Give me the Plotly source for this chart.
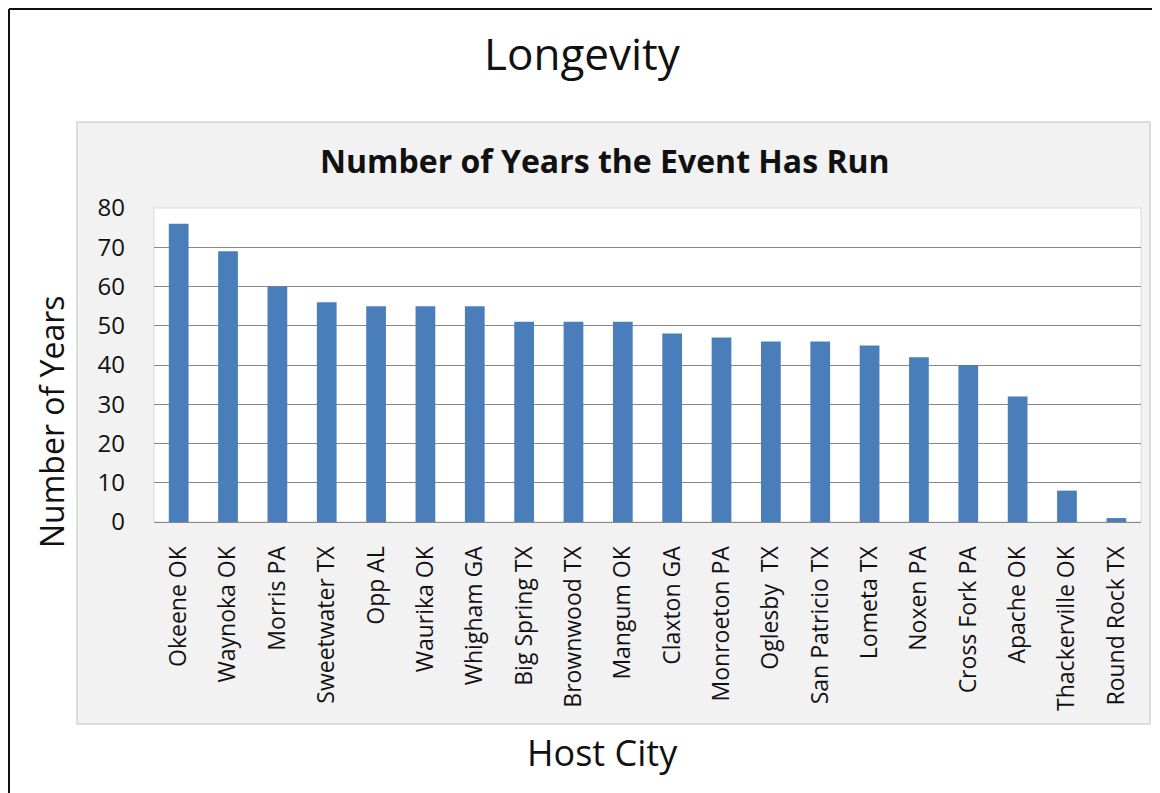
import plotly.graph_objects as go

# Data
cities = [
    "Okeene OK", "Waynoka OK", "Morris PA", "Sweetwater TX", "Opp AL",
    "Waurika OK", "Whigham GA", "Big Spring TX", "Brownwood TX", "Mangum OK",
    "Claxton GA", "Monroeton PA", "Oglesby  TX", "San Patricio TX", "Lometa TX",
    "Noxen PA", "Cross Fork PA", "Apache OK", "Thackerville OK", "Round Rock TX",
]
years = [76, 69, 60, 56, 55, 55, 55, 51, 51, 51, 48, 47, 46, 46, 45, 42, 40, 32, 8, 1]
y_ticks = [0, 10, 20, 30, 40, 50, 60, 70, 80]

# The page body adds an 8px margin, so the figure is 8px smaller than the
# window and every target pixel position is shifted back by 8.
OFF = 8
W, H = 1160 - OFF, 793 - OFF
PL, PR, PT, PB = 154 - OFF, 1141 - OFF, 208 - OFF, 522 - OFF
FONT = "Open Sans"
BAR = "#4a7ebb"
GRID = "#888888"


def px(x):
    """Window pixel x -> paper x."""
    return (x - OFF - PL) / (PR - PL)


def py(y):
    """Window pixel y -> paper y."""
    return (PB - (y - OFF)) / (PB - PT)


fig = go.Figure()
fig.add_trace(
    go.Bar(
        x=cities, y=years,
        marker=dict(color=BAR, line=dict(width=0)),
        hovertemplate="%{x}: %{y}<extra></extra>",
    )
)

shapes = [
    # outer frame: only its left and top edges show in the picture
    dict(type="line", xref="paper", yref="paper", layer="below",
         x0=px(9), x1=px(1160), y0=py(9), y1=py(9),
         line=dict(color="#111111", width=2)),
    dict(type="line", xref="paper", yref="paper", layer="below",
         x0=px(9), x1=px(9), y0=py(9), y1=py(793),
         line=dict(color="#111111", width=2)),
    # grey chart panel
    dict(type="rect", xref="paper", yref="paper", layer="below",
         x0=px(77), x1=px(1150), y0=py(724), y1=py(122),
         line=dict(color="#d4d4d4", width=1.5), fillcolor="#f2f2f2"),
    # white plot area
    dict(type="rect", xref="paper", yref="paper", layer="below",
         x0=0, x1=1, y0=0, y1=1,
         line=dict(color="#d9d9d9", width=1), fillcolor="white"),
]


def label(text, x, y, size, angle=0):
    return dict(text=text, x=px(x), y=py(y), xref="paper", yref="paper",
                xanchor="center", yanchor="middle", showarrow=False,
                textangle=angle, font=dict(size=size, color="#111111", family=FONT))


annotations = [
    label("Longevity", 582, 53, 44),
    label("<b>Number of Years the Event Has Run</b>", 605, 160, 32),
    label("Number of Years", 51, 422, 32, angle=-90),
    label("Host City", 602, 752, 36),
]

fig.update_layout(
    width=W, height=H,
    margin=dict(l=PL, r=W - PR, t=PT, b=H - PB, autoexpand=False),
    paper_bgcolor="white",
    plot_bgcolor="rgba(0,0,0,0)",
    font=dict(family=FONT, color="#111111"),
    bargap=0.6,
    showlegend=False,
    shapes=shapes,
    annotations=annotations,
    xaxis=dict(
        tickangle=-90, tickfont=dict(size=23, color="#111111"),
        showline=True, linecolor=GRID, linewidth=1,
        showgrid=False, ticks="", ticklabelstandoff=14,
    ),
    yaxis=dict(
        range=[0, 80], tickvals=y_ticks, tickfont=dict(size=24, color="#111111"),
        showgrid=True, gridcolor=GRID, gridwidth=1,
        zeroline=False, showline=False, ticks="", ticklabelstandoff=28,
    ),
)

fig.write_html("out.html")
